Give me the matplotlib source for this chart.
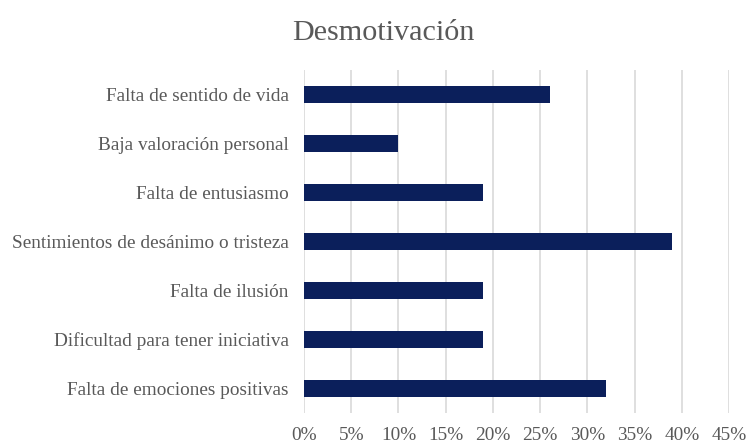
import numpy as np
import matplotlib.pyplot as plt
from matplotlib.ticker import FuncFormatter

categorias = ["Falta de sentido de vida", "Baja valoración personal", "Falta de entusiasmo",
              "Sentimientos de desánimo o tristeza", "Falta de ilusión",
              "Dificultad para tener iniciativa", "Falta de emociones positivas"]
valores = [26, 10, 19, 39, 19, 19, 32]
ticks = np.arange(0, 46, 5)

plt.rcParams['font.family'] = ['Liberation Serif', 'DejaVu Serif']
gris = '#595959'

fig = plt.figure(figsize=(7.47, 4.43), dpi=100)
ax = fig.add_axes([0.407, 0.068, 0.569, 0.774])

y = np.arange(len(categorias))
ax.barh(y, valores, height=0.35, color='#0B1F5B', zorder=3)
ax.set_yticks(y)
ax.set_yticklabels(categorias, fontsize=13.9, color=gris)
ax.invert_yaxis()
ax.set_ylim(len(categorias) - 0.5, -0.5)

ax.set_xlim(0, 45)
ax.set_xticks(ticks)
ax.xaxis.set_major_formatter(FuncFormatter(lambda v, p: f"{v:.0f}%"))
ax.tick_params(axis='x', labelsize=13.9, labelcolor=gris, length=0, pad=10)
ax.tick_params(axis='y', length=0, pad=11)
ax.grid(axis='x', color='#d9d9d9', linewidth=1.2, zorder=0)
for s in ax.spines.values():
    s.set_visible(False)

fig.suptitle("Desmotivación", fontsize=21.7, color=gris, x=0.513, y=0.955)

fig.savefig("out.png", dpi=100)
